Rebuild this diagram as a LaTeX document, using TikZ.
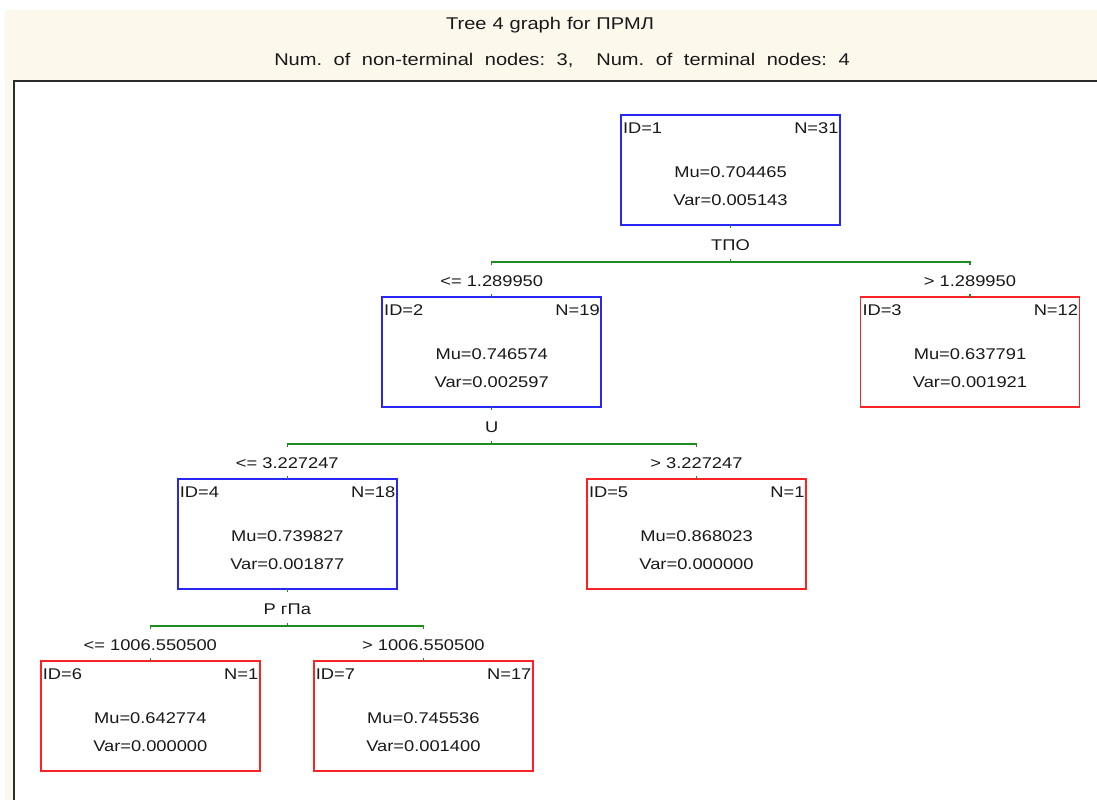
\documentclass[tikz,border=0pt]{standalone}
\usepackage{fontspec}
\setmainfont{Liberation Sans}[FakeStretch=1.18]
\definecolor{cream}{RGB}{253,248,236}
\definecolor{boxblue}{RGB}{40,40,245}
\definecolor{boxred}{RGB}{250,35,35}
\definecolor{splitgreen}{RGB}{30,140,30}
\definecolor{framegray}{RGB}{45,45,45}
\definecolor{txt}{RGB}{25,25,25}
\newcommand\tnode[8]{%
  \node[#2, anchor=north] (#1) at (#3,#4) {};
  \node[anchor=base west] (#1id) at ([shift={(2,18.5)}]#1.north west) {ID=#5};
  \node[anchor=base east] (#1n) at ([shift={(-1.5,18.5)}]#1.north east) {N=#6};
  \node[anchor=base] (#1mu) at ([shift={(0,62)}]#1.north) {Mu=#7};
  \node[anchor=base] (#1var) at ([shift={(0,90)}]#1.north) {Var=#8};
}
\newcommand\tsplit[6]{%
  \node[anchor=base] (#1lab) at ([shift={(0,25)}]#1.south) {#4};
  \coordinate (#1sc) at ([shift={(0,37)}]#1.south);
  \coordinate (#1sl) at (#2.north |- #1sc);
  \coordinate (#1sr) at (#3.north |- #1sc);
  \draw[splitline] ([shift={(0,3)}]#1sl) -- (#1sl) -- (#1sr) -- ([shift={(0,3)}]#1sr);
  \draw[splitline] (#1sc) -- ++(0,-3);
  \draw[splitline] (#1.south) -- ++(0,3);
  \draw[splitline] (#2.north) -- ++(0,-3);
  \draw[splitline] (#3.north) -- ++(0,-3);
  \node[anchor=base] (#2cond) at ([shift={(0,-11)}]#2.north) {#5};
  \node[anchor=base] (#3cond) at ([shift={(0,-11)}]#3.north) {#6};
}
\begin{document}
\begin{tikzpicture}[x=1pt,y=-1pt,
  every node/.style={font=\fontsize{15.5}{18}\selectfont, text=txt, inner sep=0pt, outer sep=0pt},
  tbox/.style={draw, line width=1.8pt, minimum width=219pt, minimum height=110pt},
  nonterm/.style={tbox, draw=boxblue},
  term/.style={tbox, draw=boxred},
  splitline/.style={draw=splitgreen, line width=1.3pt},
  titletext/.style={font=\fontsize{17}{20}\selectfont, execute at begin node={\frenchspacing\spaceskip=6pt\relax}},
  subtitletext/.style={font=\fontsize{17}{20}\selectfont, execute at begin node={\frenchspacing\spaceskip=11.5pt\relax}}]
\useasboundingbox (0,0) rectangle (1097,800);
\fill[white] (0,0) rectangle (1097,800);
\fill[cream] (5,10) rectangle (1097,800);
\fill[white] (14,81) rectangle (1097,800);
\draw[framegray, line width=2pt] (14,800) -- (14,81) -- (1097,81);
\node[titletext, anchor=base] (title) at (550,30) {Tree 4 graph for ПРМЛ};
\node[subtitletext, anchor=base] (subtitle) at (562,66) {Num. of non-terminal nodes: 3,\ \ Num. of terminal nodes: 4};

\tnode{n1}{nonterm}{730.5}{115}{1}{31}{0.704465}{0.005143}
\tnode{n2}{nonterm}{491.7}{297}{2}{19}{0.746574}{0.002597}
\tnode{n3}{term}{970}{297}{3}{12}{0.637791}{0.001921}
\tnode{n4}{nonterm}{287.3}{479}{4}{18}{0.739827}{0.001877}
\tnode{n5}{term}{696.5}{479}{5}{1}{0.868023}{0.000000}
\tnode{n6}{term}{150.3}{661}{6}{1}{0.642774}{0.000000}
\tnode{n7}{term}{423.4}{661}{7}{17}{0.745536}{0.001400}

\tsplit{n1}{n2}{n3}{ТПО}{<= 1.289950}{> 1.289950}
\tsplit{n2}{n4}{n5}{U}{<= 3.227247}{> 3.227247}
\tsplit{n4}{n6}{n7}{P гПа}{<= 1006.550500}{> 1006.550500}
\end{tikzpicture}
\end{document}
